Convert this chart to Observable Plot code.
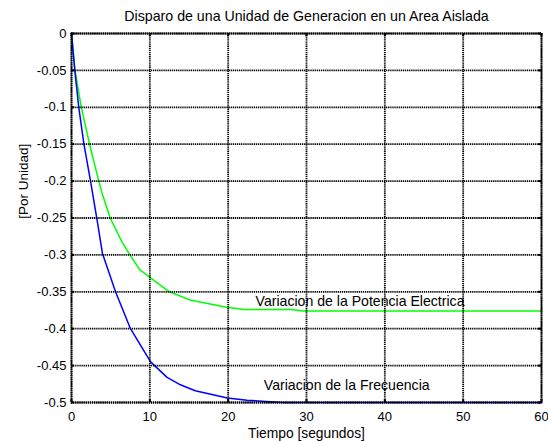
<!DOCTYPE html>
<html>
<head>
<meta charset="utf-8">
<script src="https://cdn.jsdelivr.net/npm/d3@7"></script>
<script src="https://cdn.jsdelivr.net/npm/@observablehq/plot@0.6"></script>
<style>
  body { margin: 0; background: #fff; }
  #chart svg { display: block; }
</style>
</head>
<body>
<div id="chart"></div>
<script>
// Frequency deviation after losing a generating unit (per unit), vs time (s)
const tFreq   = [0, 0.42, 0.93, 1.57, 2.43, 3.3, 3.95, 5.62, 7.53, 10.1, 12.2, 13.9, 15.8, 19.9, 22.4, 27, 30, 60];
const freqDev = [0, -0.05, -0.10, -0.149, -0.20, -0.255, -0.298, -0.35, -0.40, -0.445, -0.466, -0.476, -0.484, -0.494, -0.497, -0.5, -0.5, -0.5];

// Electrical power deviation (per unit), vs time (s)
const tPower   = [0, 0.45, 1.25, 2.3, 3.49, 3.92, 4.98, 6.47, 7.53, 8.7, 10.1, 12.5, 15.1, 19.8, 22.1, 28, 29.6, 60];
const powerDev = [0, -0.05, -0.10, -0.15, -0.20, -0.217, -0.251, -0.283, -0.301, -0.32, -0.331, -0.35, -0.361, -0.371, -0.374, -0.374, -0.376, -0.376];

// Axis ticks and texts
const xTicks = [0, 10, 20, 30, 40, 50, 60];
const yTicks = [0, -0.05, -0.1, -0.15, -0.2, -0.25, -0.3, -0.35, -0.4, -0.45, -0.5];
const yTickLabels = ["0", "-0.05", "-0.1", "-0.15", "-0.2", "-0.25", "-0.3", "-0.35", "-0.4", "-0.45", "-0.5"];
const titleText = "Disparo de una Unidad de Generacion en un Area Aislada";
const xLabel = "Tiempo [segundos]";
const yLabel = "[Por Unidad]";

// In-plot annotations (anchored at the start of each text, on its baseline)
const noteText = ["Variacion de la Potencia Electrica", "Variacion de la Frecuencia"];
const noteT    = [23.5, 24.55];
const noteV    = [-0.3695, -0.4824];

const power = tPower.map((t, i) => ({t, v: powerDev[i]}));
const freq  = tFreq.map((t, i) => ({t, v: freqDev[i]}));
const notes = noteText.map((text, i) => ({text, t: noteT[i], v: noteV[i]}));

const W = 548, H = 441;
const mL = 71, mR = 7, mT = 33, mB = 39;
const plotW = W - mL - mR, plotH = H - mT - mB;
const FONT = "'Liberation Sans', Arial, Helvetica, sans-serif";
const dotted = {stroke: "black", strokeOpacity: 1, strokeWidth: 1.8, strokeDasharray: "1.3,0.8"};
const tickLen = 3;

const chart = Plot.plot({
  width: W,
  height: H,
  marginLeft: mL,
  marginRight: mR,
  marginTop: mT,
  marginBottom: mB,
  style: {fontFamily: FONT, fontSize: "13px", color: "black", background: "white"},
  x: {domain: [0, 60]},
  y: {domain: [-0.5, 0]},
  marks: [
    Plot.axisX(xTicks, {tickSize: 0, tickPadding: 9, label: null, fontSize: 13, fill: "black"}),
    Plot.axisY(yTicks, {tickSize: 0, tickPadding: 5, label: null, fontSize: 13, fill: "black",
      tickFormat: (d) => yTickLabels[yTicks.indexOf(d)]}),
    Plot.line(power, {x: "t", y: "v", stroke: "#00ff00", strokeWidth: 1.5}),
    Plot.line(freq, {x: "t", y: "v", stroke: "#0000ff", strokeWidth: 1.5}),
    Plot.text(notes, {x: "t", y: "v", text: "text", textAnchor: "start", lineAnchor: "bottom",
      fontSize: 14.1, fill: "black"}),
    // dotted grid drawn over the curves, as in the axes layer
    Plot.gridX(xTicks, dotted),
    Plot.gridY(yTicks, dotted),
    Plot.frame(dotted),
    // small inward tick marks on all four sides
    Plot.tickX(xTicks, {x: (d) => d, stroke: "black", strokeWidth: 2, insetTop: plotH - tickLen}),
    Plot.tickX(xTicks, {x: (d) => d, stroke: "black", strokeWidth: 2, insetBottom: plotH - tickLen}),
    Plot.tickY(yTicks, {y: (d) => d, stroke: "black", strokeWidth: 2, insetRight: plotW - tickLen}),
    Plot.tickY(yTicks, {y: (d) => d, stroke: "black", strokeWidth: 2, insetLeft: plotW - tickLen}),
    // title and axis labels
    Plot.text([titleText], {frameAnchor: "top", dy: -12.3, lineAnchor: "bottom", fontSize: 14.2, fill: "black"}),
    Plot.text([xLabel], {frameAnchor: "bottom", dy: 35.5, lineAnchor: "bottom", fontSize: 13.8, fill: "black"}),
    Plot.text([yLabel], {frameAnchor: "left", dx: -43.5, dy: 0.8, rotate: -90, lineAnchor: "bottom", fontSize: 13.5, fill: "black"})
  ]
});

document.getElementById("chart").append(chart);
</script>
</body>
</html>
